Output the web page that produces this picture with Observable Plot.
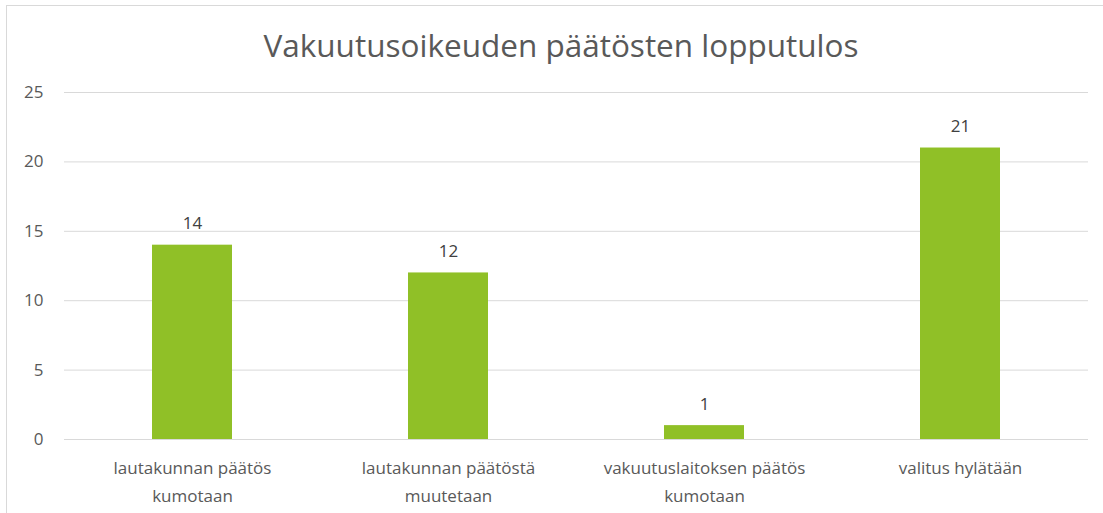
<!DOCTYPE html>
<html>
<head>
<meta charset="utf-8">
<script src="https://cdn.jsdelivr.net/npm/d3@7"></script>
<script src="https://cdn.jsdelivr.net/npm/@observablehq/plot@0.6"></script>
<style>
  html, body { margin: 0; padding: 0; background: #fff; overflow: hidden; width: 1103px; height: 513px; }
  #frame { position: absolute; left: 6px; top: 5px; width: 3000px; height: 3000px; border-left: 1px solid #d9d9d9; border-top: 1px solid #d9d9d9; pointer-events: none; }
  #title { position: relative; height: 70px; padding-top: 30px; box-sizing: border-box; line-height: 30px; font-family: "Open Sans", "Liberation Sans", sans-serif; font-size: 31.5px; color: #595959; width: 1122px; text-align: center; }
  #chart { position: relative; }
</style>
</head>
<body>
<div id="frame"></div>
<div id="title">Vakuutusoikeuden päätösten lopputulos</div>
<div id="chart"></div>
<script>
const categories = ["lautakunnan päätös kumotaan", "lautakunnan päätöstä muutetaan", "vakuutuslaitoksen päätös kumotaan", "valitus hylätään"];
const tickLabels = ["lautakunnan päätös\nkumotaan", "lautakunnan päätöstä\nmuutetaan", "vakuutuslaitoksen päätös\nkumotaan", "valitus hylätään"];
const values = [14, 12, 1, 21];
const yTicks = [0, 5, 10, 15, 20, 25];

const data = categories.map((c, i) => ({category: c, value: values[i]}));
const labelOf = new Map(categories.map((c, i) => [c, tickLabels[i]]));

const chart = Plot.plot({
  width: 1103,
  height: 443,
  marginLeft: 64,
  marginRight: 15,
  marginTop: 22,
  marginBottom: 74,
  style: {fontFamily: "'Open Sans', 'Liberation Sans', sans-serif", fontSize: "17px", color: "#595959", overflow: "visible"},
  x: {domain: categories, paddingInner: 0.6875, paddingOuter: 0.34375, align: 0.5, label: null},
  y: {domain: [0, 25], label: null},
  marks: [
    Plot.gridY(yTicks, {stroke: "#d9d9d9", strokeOpacity: 1, strokeWidth: 1}),
    Plot.barY(data, {x: "category", y: "value", fill: "#90C027"}),
    Plot.text(data, {x: "category", y: "value", text: d => String(d.value), lineAnchor: "bottom", dy: -16, fill: "#404040", fontSize: 17}),
    Plot.axisY(yTicks, {tickSize: 0, tickPadding: 21, fill: "#595959", fontSize: 17, label: null}),
    Plot.axisX({tickSize: 0, tickPadding: 15, fill: "#595959", fontSize: 17, lineHeight: 1.65, tickFormat: c => labelOf.get(c), label: null})
  ]
});
document.getElementById("chart").appendChild(chart);
</script>
</body>
</html>
